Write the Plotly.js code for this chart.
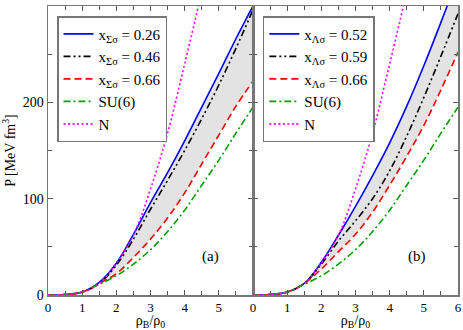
<!DOCTYPE html>
<html>
<head>
<meta charset="utf-8">
<script src="https://cdn.plot.ly/plotly-3.0.1.min.js"></script>
<style>
  html, body { margin: 0; padding: 0; background: #fff; }
  #myPlot { width: 463px; height: 330px; }
</style>
</head>
<body>
<div id="myPlot"></div>
<script>
// density rho_B/rho_0
var rho = [0, 0.5, 1, 1.5, 2, 2.5, 3, 3.5, 4, 4.5, 5, 5.5, 6];

// panel (a): x_Sigma_sigma
var pA026 = [0, 0.5, 3, 13, 33, 63, 96, 127, 160, 195, 230, 266, 300];
var pA046 = [0, 0.5, 3, 12, 31, 58, 89, 119, 150, 183, 218, 256, 296];
var pA066 = [0, 0.5, 3, 12, 22, 39, 58, 80, 106, 136, 166, 196, 222];

// panel (b): x_Lambda_sigma
var pB052 = [0, 0.5, 3, 12, 34, 62, 92, 124, 158, 196, 238, 283, 330];
var pB059 = [0, 0.5, 3, 12, 32, 56, 77, 100, 129, 165, 205, 248, 292];
var pB066 = [0, 0.5, 3, 12, 27, 45, 63, 86, 114, 144, 176, 213, 252];

// reference curves, same in both panels
var pSU6 = [0, 0.5, 3, 11, 20, 32, 47, 66, 88, 114, 140, 168, 195];
var rhoN = [0, 0.5, 1, 1.5, 2, 2.5, 3, 3.5, 4, 4.4, 4.5];
var pN = [0, 0.5, 3, 12, 33, 62, 110, 168, 240, 300, 318];

var labelsA = ["x<sub>Σσ</sub> = 0.26", "x<sub>Σσ</sub> = 0.46", "x<sub>Σσ</sub> = 0.66"];
var labelsB = ["x<sub>Λσ</sub> = 0.52", "x<sub>Λσ</sub> = 0.59", "x<sub>Λσ</sub> = 0.66"];

var serif = "Liberation Serif, Times New Roman, serif";
var band = "#e3e3e3";

function panel(xa, ya, lg, hi, mid, lo, labels) {
    return [
        { x: rho, y: hi, xaxis: xa, yaxis: ya, mode: "lines", line: { width: 0, shape: "spline" }, showlegend: false, hoverinfo: "skip" },
        { x: rho, y: lo, xaxis: xa, yaxis: ya, mode: "lines", line: { width: 0, shape: "spline" }, fill: "tonexty", fillcolor: band, showlegend: false, hoverinfo: "skip" },
        { x: rho, y: hi, xaxis: xa, yaxis: ya, legend: lg, mode: "lines", name: labels[0], line: { color: "#0000ff", width: 1.6, shape: "spline" } },
        { x: rho, y: mid, xaxis: xa, yaxis: ya, legend: lg, mode: "lines", name: labels[1], line: { color: "#000000", width: 1.6, shape: "spline", dash: "7px,3px,2px,3px,2px,3px" } },
        { x: rho, y: lo, xaxis: xa, yaxis: ya, legend: lg, mode: "lines", name: labels[2], line: { color: "#ff0000", width: 1.6, shape: "spline", dash: "7px,4px" } },
        { x: rho, y: pSU6, xaxis: xa, yaxis: ya, legend: lg, mode: "lines", name: "SU(6)", line: { color: "#00a000", width: 1.6, shape: "spline", dash: "7px,3px,2px,3px" } },
        { x: rhoN, y: pN, xaxis: xa, yaxis: ya, legend: lg, mode: "lines", name: "N", line: { color: "#ff00ff", width: 1.6, shape: "spline", dash: "2px,2.5px" } }
    ];
}

var data = panel("x", "y", "legend", pA026, pA046, pA066, labelsA)
    .concat(panel("x2", "y2", "legend2", pB052, pB059, pB066, labelsB));

function xax(dom, vals, text) {
    return {
        domain: dom, range: [0, 6], tickmode: "array", tickvals: vals, ticktext: text,
        ticks: "inside", ticklen: 5, tickcolor: "#555", showline: true, linecolor: "#777", linewidth: 1.5,
        mirror: "ticks", showgrid: false, zeroline: false,
        minor: { tickmode: "array", tickvals: [0.5, 1.5, 2.5, 3.5, 4.5, 5.5], ticks: "inside", ticklen: 4, tickcolor: "#555" },
        tickfont: { family: serif, size: 13, color: "#000" },
        title: { text: "ρ<sub>B</sub>/ρ<sub>0</sub>", font: { family: serif, size: 14, color: "#000" }, standoff: 8 }
    };
}

function yax(anchor, labels) {
    return {
        anchor: anchor, range: [0, 300], dtick: 100, tick0: 0, showticklabels: labels,
        ticks: "inside", ticklen: 5, tickcolor: "#555", showline: true, linecolor: "#777", linewidth: 1.5,
        mirror: "ticks", showgrid: false, zeroline: false,
        minor: { dtick: 50, ticks: "inside", ticklen: 4, tickcolor: "#555" },
        tickfont: { family: serif, size: 14, color: "#000" }
    };
}

var legendStyle = {
    y: 0.965, yanchor: "top", xanchor: "left", traceorder: "normal",
    bgcolor: "#fff", bordercolor: "#777", borderwidth: 1.5,
    font: { family: serif, size: 15, color: "#000" },
    tracegroupgap: 0, itemwidth: 30
};

var y1 = yax("x", true);
y1.title = { text: "P [MeV fm<sup>3</sup>]", font: { family: serif, size: 14, color: "#000" }, standoff: 6 };

var layout = {
    width: 463, height: 330,
    margin: { l: 48, r: 5, t: 6, b: 35 },
    paper_bgcolor: "#fff", plot_bgcolor: "#fff",
    xaxis: xax([0, 0.5], [0, 1, 2, 3, 4, 5, 6], ["0", "1", "2", "3", "4", "5", ""]),
    xaxis2: xax([0.5, 1], [0, 1, 2, 3, 4, 5, 6], ["0", "1", "2", "3", "4", "5", "6"]),
    yaxis: y1,
    yaxis2: yax("x2", false),
    legend: Object.assign({ x: 0.022 }, legendStyle),
    legend2: Object.assign({ x: 0.524 }, legendStyle),
    annotations: [
        { x: 4.75, y: 40, xref: "x", yref: "y", text: "(a)", showarrow: false, font: { family: serif, size: 15, color: "#000" } },
        { x: 4.8, y: 40, xref: "x2", yref: "y2", text: "(b)", showarrow: false, font: { family: serif, size: 15, color: "#000" } }
    ],
    showlegend: true
};

Plotly.newPlot("myPlot", data, layout, { displayModeBar: false, staticPlot: true });
</script>
</body>
</html>
